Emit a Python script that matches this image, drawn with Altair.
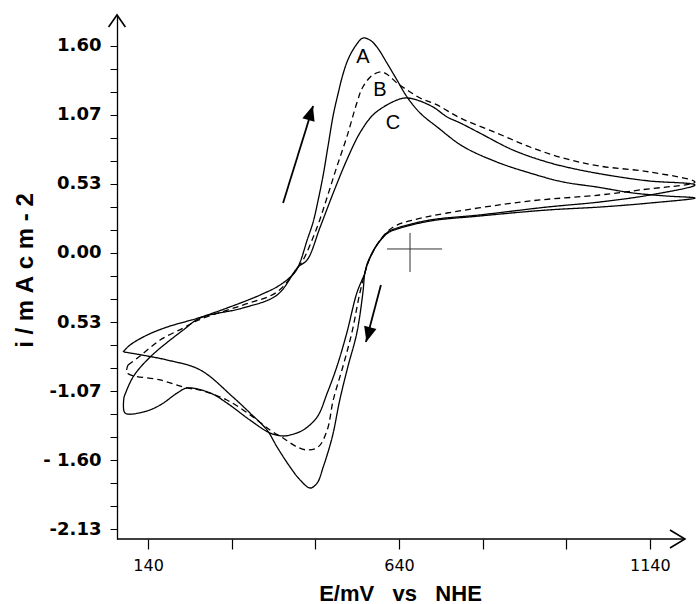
import altair as alt
import pandas as pd
import json

# ---------------- data ----------------
# Curve A (solid, largest peaks): anodic sweep then cathodic sweep
A_E = [90, 104, 138, 178, 240, 303, 363, 403, 433, 443, 457, 469, 479, 489, 499, 509, 518, 528, 538, 552,
       568, 582, 596, 616, 636, 656, 682, 716, 767, 835, 901, 967, 1034, 1106, 1174, 1230,
       1140, 1040, 935, 801, 702, 636, 618, 596, 578, 572, 568, 556, 538, 522, 507, 489, 477, 463,
       443, 423, 397, 377, 343, 309, 244, 178, 92]
A_I = [-0.765, -0.711, -0.634, -0.572, -0.502, -0.417, -0.325, -0.247, -0.147, -0.070, 0.100, 0.240, 0.410,
       0.603, 0.835, 1.066, 1.221, 1.376, 1.491, 1.592, 1.661, 1.646, 1.592, 1.468, 1.337, 1.206, 1.082,
       0.974, 0.825, 0.703, 0.618, 0.549, 0.510, 0.464, 0.440, 0.425,
       0.386, 0.355, 0.332, 0.286, 0.247, 0.185, 0.155, 0.062, -0.070, -0.155, -0.309, -0.618, -0.881,
       -1.136, -1.422, -1.654, -1.777, -1.816, -1.754, -1.654, -1.499, -1.368, -1.236, -1.113, -0.904,
       -0.827, -0.765]

# Curve B (dashed)
B_E = [100, 124, 164, 210, 240, 329, 397, 439, 449, 477, 497, 516, 536, 556, 568, 588, 606, 618, 636, 656,
       682, 716, 762, 835, 901, 967, 1040, 1140, 1230,
       1120, 1040, 921, 867, 736, 668, 636, 618, 596, 578, 572, 562, 546, 528, 509, 497, 479, 457, 437,
       409, 383, 349, 297, 244, 218, 164, 98, 100]
B_I = [-0.866, -0.796, -0.672, -0.580, -0.518, -0.402, -0.301, -0.108, -0.054, 0.201, 0.433, 0.665, 0.896,
       1.159, 1.283, 1.376, 1.399, 1.376, 1.314, 1.260, 1.198, 1.144, 1.043, 0.927, 0.819, 0.734, 0.672,
       0.626, 0.549,
       0.487, 0.448, 0.410, 0.386, 0.309, 0.255, 0.216, 0.170, 0.062, -0.077, -0.155, -0.309, -0.618,
       -0.881, -1.136, -1.368, -1.499, -1.522, -1.499, -1.430, -1.368, -1.267, -1.136, -1.059, -1.043,
       -0.981, -0.927, -0.866]

# Curve C (solid, smallest peaks)
C_E = [92, 110, 144, 210, 244, 329, 397, 439, 457, 483, 509, 536, 562, 588, 616, 642, 656, 676, 708, 736,
       762, 801, 867, 935, 1001, 1080, 1140, 1230,
       1140, 1040, 935, 801, 702, 636, 618, 596, 578, 572, 556, 536, 516, 497, 477, 449, 423, 409, 383,
       343, 297, 264, 218, 198, 164, 130, 94, 92]
C_I = [-1.113, -0.958, -0.804, -0.595, -0.502, -0.425, -0.325, -0.108, -0.054, 0.201, 0.464, 0.719, 0.927,
       1.066, 1.144, 1.190, 1.198, 1.182, 1.128, 1.051, 1.005, 0.927, 0.796, 0.703, 0.641, 0.587, 0.556,
       0.526,
       0.448, 0.394, 0.355, 0.294, 0.255, 0.193, 0.162, 0.062, -0.077, -0.155, -0.309, -0.618, -0.881,
       -1.082, -1.267, -1.368, -1.406, -1.414, -1.391, -1.291, -1.159, -1.082, -1.043, -1.082, -1.175,
       -1.229, -1.236, -1.113]

CURVE_NAMES = ["A", "B", "C"]
LABEL_E = [568, 602, 628]
LABEL_I = [1.515, 1.26, 1.005]

# axis ticks and labels
X_TICKS = [140, 306.667, 473.333, 640, 806.667, 973.333, 1140]
X_LABELS = ["140", "", "", "640", "", "", "1140"]
Y_TICKS = [1.6 - k * (1.6 / 9) for k in range(22)]
Y_LABELS = ["1.60", "", "", "1.07", "", "", "0.53", "", "", "0.00", "", "", "0.53", "", "",
            "-1.07", "", "", "- 1.60", "", "", "-2.13"]
NB = "\u00a0"
X_TITLE = "E/mV" + NB * 3 + "vs" + NB * 3 + "NHE"
Y_TITLE = NB.join(["i", "/", "m", "A", "c", "m", "-", "2"])

X_DOMAIN = [78, 1232]
Y_DOMAIN = [-2.21, 1.839]
X_ARROW_TIP = 1210

# scan direction arrows
ARROW_TAIL_E = [409, 604]
ARROW_TAIL_I = [0.386, -0.247]
ARROW_TIP_E = [469, 574]
ARROW_TIP_I = [1.136, -0.688]
ARROW_HEAD_E = [464, 579]
ARROW_HEAD_I = [1.083, -0.630]
ARROW_ANGLE = [17, 195]

# cross marker
CROSS_E = [616, 726, 662]
CROSS_I = [0.031, 0.155, -0.147]

# ---------------- build ----------------
rows = []
for name, es, is_ in zip(CURVE_NAMES, [A_E, B_E, C_E], [A_I, B_I, C_I]):
    for k, (e, i) in enumerate(zip(es, is_)):
        rows.append({"curve": name, "E": e, "i": i, "k": k})
curves_df = pd.DataFrame(rows)

xs = alt.Scale(domain=X_DOMAIN, nice=False, zero=False)
ys = alt.Scale(domain=Y_DOMAIN, nice=False, zero=False)

y_expr = "%s[round((%f - datum.value) / %f)]" % (json.dumps(Y_LABELS), 1.6, 1.6 / 9)
x_expr = "%s[round((datum.value - 140) / %f)]" % (json.dumps(X_LABELS), 500 / 3)

AX = alt.Axis(title=X_TITLE, values=X_TICKS, labelExpr=x_expr, domain=False, grid=False,
              tickSize=10, tickColor="black", tickWidth=1.2,
              labelFont="DejaVu Sans", labelFontSize=16, labelColor="black",
              labelPadding=8, labelFlush=False, labelOverlap=False,
              titleFont="Liberation Sans", titleFontSize=22, titleFontWeight="bold",
              titleColor="black", titleX=283, titleY=61, titleBaseline="alphabetic",
              titleAlign="center")
AY = alt.Axis(title=Y_TITLE, values=Y_TICKS, labelExpr=y_expr, domain=True, domainColor="black",
              domainWidth=1.3, grid=False, tickSize=7, tickColor="black", tickWidth=1,
              labelFont="DejaVu Sans", labelFontSize=18, labelFontWeight="bold",
              labelColor="black", labelPadding=9, labelFlush=False, labelOverlap=False,
              titleFont="Liberation Sans", titleFontSize=24, titleFontWeight="bold",
              titleColor="black", titleAngle=-90, titleX=-92, titleY=255,
              titleBaseline="middle", titleAlign="center")


def X(f):
    return alt.X(f, scale=xs, axis=AX)


def Y(f):
    return alt.Y(f, scale=ys, axis=AY)


curves = alt.Chart(curves_df).mark_line(
    interpolate="catmull-rom", color="black", strokeWidth=1.3
).encode(
    x=X("E:Q"), y=Y("i:Q"),
    order="k:Q",
    detail="curve:N",
    strokeDash=alt.StrokeDash("curve:N", scale=alt.Scale(domain=CURVE_NAMES,
                                                         range=[[1, 0], [6, 4], [1, 0]]), legend=None),
)

labels_df = pd.DataFrame({"name": CURVE_NAMES, "E": LABEL_E, "i": LABEL_I})
labels = alt.Chart(labels_df).mark_text(
    font="Liberation Sans", fontSize=20, color="black", align="center", baseline="middle"
).encode(x=X("E:Q"), y=Y("i:Q"), text="name:N")

# x axis line with arrow
xaxis_df = pd.DataFrame({"x1": [X_DOMAIN[0]], "x2": [X_ARROW_TIP], "y": [Y_DOMAIN[0]]})
xaxis_line = alt.Chart(xaxis_df).mark_rule(color="black", strokeWidth=1.3).encode(
    x=X("x1:Q"), x2="x2:Q", y=Y("y:Q"))
xarrow = alt.Chart(xaxis_df).mark_point(
    shape="M-1,-0.6L0,0L-1,0.6", filled=False, size=900, color="black", strokeWidth=1.6, opacity=1
).encode(x=X("x2:Q"), y=Y("y:Q"))
yarrow_df = pd.DataFrame({"x": [X_DOMAIN[0]], "y": [Y_DOMAIN[1]]})
yarrow = alt.Chart(yarrow_df).mark_point(
    shape="M-0.7,1L0,0L0.7,1", filled=False, size=576, color="black", strokeWidth=1.6, opacity=1
).encode(x=X("x:Q"), y=Y("y:Q"))

# scan direction arrows
arr_df = pd.DataFrame({"e1": ARROW_TAIL_E, "i1": ARROW_TAIL_I, "e2": ARROW_TIP_E, "i2": ARROW_TIP_I,
                       "eh": ARROW_HEAD_E, "ih": ARROW_HEAD_I, "ang": ARROW_ANGLE})
arr_lines = alt.Chart(arr_df).mark_rule(color="black", strokeWidth=1.8).encode(
    x=X("e1:Q"), y=Y("i1:Q"), x2="e2:Q", y2="i2:Q")
arr_heads = alt.Chart(arr_df).mark_point(
    shape="M0,-1L0.85,1L-0.85,1Z", filled=True, size=225, color="black", opacity=1
).encode(x=X("eh:Q"), y=Y("ih:Q"), angle=alt.Angle("ang:Q", scale=None))

# cross marker
cross_h_df = pd.DataFrame({"x1": [CROSS_E[0]], "x2": [CROSS_E[1]], "y": [CROSS_I[0]]})
cross_v_df = pd.DataFrame({"x": [CROSS_E[2]], "y1": [CROSS_I[1]], "y2": [CROSS_I[2]]})
cross_h = alt.Chart(cross_h_df).mark_rule(color="#333333", strokeWidth=1).encode(
    x=X("x1:Q"), x2="x2:Q", y=Y("y:Q"))
cross_v = alt.Chart(cross_v_df).mark_rule(color="#333333", strokeWidth=1).encode(
    x=X("x:Q"), y=Y("y1:Q"), y2="y2:Q")

chart = alt.layer(
    curves, labels, xaxis_line, xarrow, yarrow, arr_lines, arr_heads, cross_h, cross_v
).properties(
    width=579, height=524,
    autosize=alt.AutoSizeParams(type="none"),
    padding={"left": 117, "top": 15, "right": 0, "bottom": 65},
    background="white",
).configure_view(stroke=None)

chart.save("out.html", embed_options={"renderer": "svg", "actions": False})
